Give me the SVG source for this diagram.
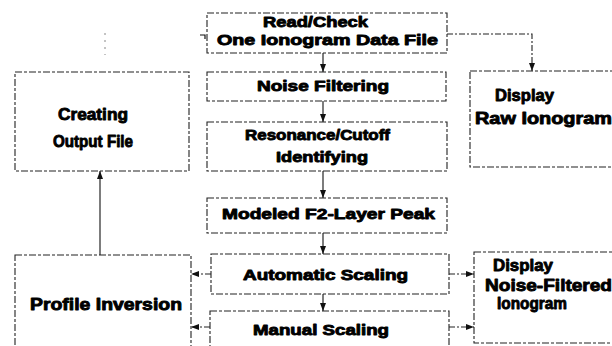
<svg xmlns="http://www.w3.org/2000/svg" width="612" height="346" viewBox="0 0 612 346">
<style>
.box{fill:#fff;stroke:#222;stroke-width:1.1;stroke-dasharray:7 2 3 2}
.c{fill:none;stroke:#111;stroke-width:1.1}
.cd{fill:none;stroke:#222;stroke-width:1.1;stroke-dasharray:6 2 2 2}
text{font-family:"Liberation Sans",Arial,sans-serif;font-weight:bold;fill:#000;stroke:#000;stroke-width:0.9;stroke-linejoin:round}
.m{font-size:15px}
.s{font-size:17px}
</style>
<defs>
<marker id="ah" markerUnits="userSpaceOnUse" markerWidth="8" markerHeight="8" viewBox="0 0 8 8" refX="8" refY="4" orient="auto">
<path d="M0,1 L8,4 L0,7 Z" fill="#111"/>
</marker>
</defs>
<rect width="612" height="346" fill="#fff"/>
<g id="connectors">
<line class="c" x1="323" y1="53" x2="323" y2="72" marker-end="url(#ah)"/>
<line class="c" x1="323" y1="101" x2="323" y2="122" marker-end="url(#ah)"/>
<line class="c" x1="323" y1="171" x2="323" y2="198" marker-end="url(#ah)"/>
<line class="c" x1="323" y1="233" x2="323" y2="254" marker-end="url(#ah)"/>
<line class="c" x1="323" y1="294" x2="323" y2="311" marker-end="url(#ah)"/>
<path class="cd" d="M447 34 H532 V71" marker-end="url(#ah)"/>
<line class="c" x1="100" y1="255" x2="100" y2="171" marker-end="url(#ah)"/>
<line class="cd" x1="211" y1="274" x2="191" y2="274" marker-end="url(#ah)"/>
<line class="cd" x1="210" y1="327" x2="191" y2="327" marker-end="url(#ah)"/>
<line class="cd" x1="449" y1="274" x2="474" y2="274" marker-end="url(#ah)"/>
<line class="cd" x1="449" y1="327" x2="474" y2="327" marker-end="url(#ah)"/>
<line x1="105" y1="33" x2="105" y2="55" stroke="#888" stroke-width="1" stroke-dasharray="2 5"/>
<path d="M200 35 H205 V39" fill="none" stroke="#111" stroke-width="1.2"/>
</g>
<g id="read">
<rect class="box" x="207" y="13" width="240" height="40"/>
<text class="m" x="263" y="27" textLength="105" lengthAdjust="spacingAndGlyphs">Read/Check</text>
<text class="m" x="217" y="45" textLength="221" lengthAdjust="spacingAndGlyphs">One Ionogram Data File</text>
</g>
<g id="noise">
<rect class="box" x="207" y="72" width="239" height="29"/>
<text class="m" x="257" y="91" textLength="132" lengthAdjust="spacingAndGlyphs">Noise Filtering</text>
</g>
<g id="resonance">
<rect class="box" x="207" y="122" width="240" height="49"/>
<text class="m" x="245" y="140" textLength="145" lengthAdjust="spacingAndGlyphs">Resonance/Cutoff</text>
<text class="m" x="276" y="162" textLength="92" lengthAdjust="spacingAndGlyphs">Identifying</text>
</g>
<g id="modeled">
<rect class="box" x="207" y="198" width="240" height="35"/>
<text class="m" x="222" y="219" textLength="213" lengthAdjust="spacingAndGlyphs">Modeled F2-Layer Peak</text>
</g>
<g id="auto">
<rect class="box" x="211" y="254" width="238" height="40"/>
<text class="m" x="243" y="280" textLength="165" lengthAdjust="spacingAndGlyphs">Automatic Scaling</text>
</g>
<g id="manual">
<rect class="box" x="210" y="311" width="239" height="50"/>
<text class="m" x="253" y="335" textLength="136" lengthAdjust="spacingAndGlyphs">Manual Scaling</text>
</g>
<g id="creating">
<rect class="box" x="15" y="72" width="174" height="99"/>
<text class="s" x="58" y="120" textLength="70" lengthAdjust="spacingAndGlyphs">Creating</text>
<text class="s" x="53" y="147" textLength="80" lengthAdjust="spacingAndGlyphs">Output File</text>
</g>
<g id="profile">
<rect class="box" x="15" y="255" width="176" height="100"/>
<text class="s" x="30" y="310" textLength="152" lengthAdjust="spacingAndGlyphs">Profile Inversion</text>
</g>
<g id="displayraw">
<rect class="box" x="470" y="71" width="160" height="96"/>
<text class="s" x="495" y="101" textLength="59" lengthAdjust="spacingAndGlyphs">Display</text>
<text class="s" x="475" y="124" textLength="137" lengthAdjust="spacingAndGlyphs">Raw Ionogram</text>
</g>
<g id="displaynf">
<rect class="box" x="474" y="252" width="160" height="91"/>
<text class="s" x="493" y="271" textLength="60" lengthAdjust="spacingAndGlyphs">Display</text>
<text class="s" x="485" y="291" textLength="127" lengthAdjust="spacingAndGlyphs">Noise-Filtered</text>
<text class="s" x="497" y="309" textLength="70" lengthAdjust="spacingAndGlyphs">Ionogram</text>
</g>
</svg>
